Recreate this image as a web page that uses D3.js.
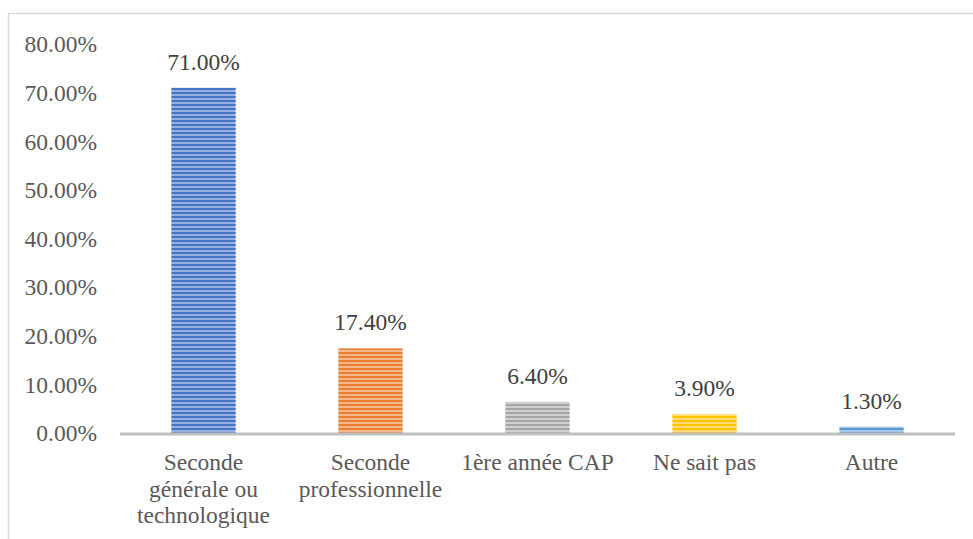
<!DOCTYPE html>
<html><head><meta charset="utf-8">
<script src="https://cdn.jsdelivr.net/npm/d3@7"></script>
<style>body{margin:0;background:#fff}svg{display:block}</style>
</head><body><svg id="c" width="973" height="539"></svg>
<script>
const categories = [["Seconde","générale ou","technologique"],["Seconde","professionnelle"],["1ère année CAP"],["Ne sait pas"],["Autre"]];
const values = [71.0, 17.4, 6.4, 3.9, 1.3];
const yTicks = [0,10,20,30,40,50,60,70,80];
const colors = ["#4472C4","#ED7D31","#A5A5A5","#FFC000","#5B9BD5"];

const FONT = "'Liberation Serif'";
const FS = 23.5;
const svg = d3.select("#c");
svg.append("rect").attr("x",8.5).attr("y",13.5).attr("width",980).attr("height",540)
  .attr("fill","#fff").attr("stroke","#d9d9d9").attr("stroke-width",1.5);

const defs = svg.append("defs");
colors.forEach((c,i)=>{
  const p = defs.append("pattern").attr("id","p"+i).attr("patternUnits","userSpaceOnUse")
    .attr("width",8).attr("height",4);
  p.append("rect").attr("width",8).attr("height",4).attr("fill",d3.interpolateRgb(c,"#fff")(0.45));
  p.append("rect").attr("y",0).attr("width",8).attr("height",2).attr("fill",c);
});

const x = d3.scaleBand().domain(d3.range(categories.length)).range([120,955]).paddingInner(0.615).paddingOuter(0.3075);
const y = d3.scaleLinear().domain([0,80]).range([433,44]);

const yAxis = svg.append("g").attr("transform","translate(97,0)")
  .call(d3.axisLeft(y).tickValues(yTicks).tickSize(0).tickFormat(d=>d.toFixed(2)+"%"));
yAxis.select(".domain").remove();
yAxis.selectAll("text").style("font-family",FONT).style("font-size",FS+"px")
  .attr("fill","#595959").attr("x",0).attr("dy","0.33em");

svg.selectAll(".bar").data(values).enter().append("rect")
  .attr("x",(d,i)=>x(i)).attr("width",x.bandwidth())
  .attr("y",d=>y(d)).attr("height",d=>y(0)-y(d))
  .attr("fill",(d,i)=>"url(#p"+i+")");

svg.append("line").attr("x1",120).attr("x2",955).attr("y1",y(0)+1).attr("y2",y(0)+1)
  .attr("stroke","#bfbfbf").attr("stroke-width",3);

svg.selectAll(".lbl").data(values).enter().append("text")
  .attr("x",(d,i)=>x(i)+x.bandwidth()/2).attr("y",d=>y(d)-18)
  .attr("text-anchor","middle").style("font-family",FONT).style("font-size",FS+"px").attr("fill","#404040")
  .text(d=>d.toFixed(2)+"%");

categories.forEach((lines,i)=>{
  const t = svg.append("text").attr("text-anchor","middle")
    .style("font-family",FONT).style("font-size",FS+"px").attr("fill","#595959");
  lines.forEach((l,j)=>{
    t.append("tspan").attr("x",x(i)+x.bandwidth()/2).attr("y",470+j*26.5).text(l);
  });
});
</script></body></html>
